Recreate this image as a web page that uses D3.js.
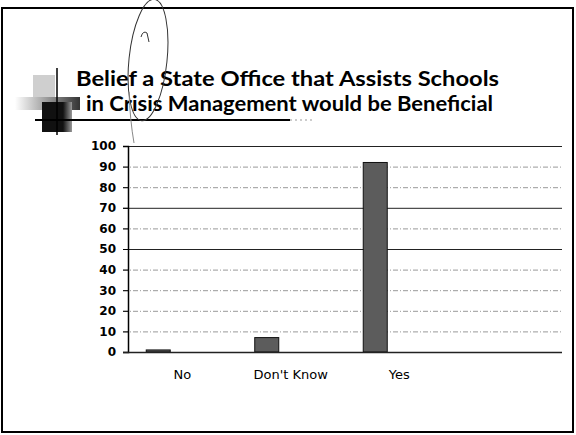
<!DOCTYPE html>
<html>
<head>
<meta charset="utf-8">
<script src="https://cdn.jsdelivr.net/npm/d3@7"></script>
<style>
    body { margin: 0; background: #fff; }
    .ticktext { font-family: "DejaVu Sans", Tahoma, sans-serif; font-size: 12px; fill: #000; }
    .ytick { font-weight: bold; }
    .xtick { font-size: 13px; }
    .title { font-family: "Comic Sans MS", Lato, "DejaVu Sans", sans-serif; font-weight: bold; font-size: 21px; fill: #000; }
</style>
</head>
<body>
<div id="chart"></div>
<script>
// survey answers
var categories = ["No", "Don't Know", "Yes", ""];
var seriesNames = ["Series 1", "Series 2", "Series 3"];
var values = [1, 7, 92];
var yTicks = [0, 10, 20, 30, 40, 50, 60, 70, 80, 90, 100];
var solidTicks = [50, 70, 100];
var titleLines = ["Belief a State Office that Assists Schools", "in Crisis Management would be Beneficial"];

var width = 576, height = 435;
var plot = {left: 128, right: 562, top: 146, bottom: 352};

var svg = d3.select("#chart").append("svg")
    .attr("width", width)
    .attr("height", height);

var defs = svg.append("defs");
var grad = defs.append("linearGradient").attr("id", "fadeBar");
grad.append("stop").attr("offset", "0%").attr("stop-color", "#fff");
grad.append("stop").attr("offset", "100%").attr("stop-color", "#333");
var grad2 = defs.append("linearGradient").attr("id", "darkSq");
grad2.append("stop").attr("offset", "0%").attr("stop-color", "#111");
grad2.append("stop").attr("offset", "70%").attr("stop-color", "#111");
grad2.append("stop").attr("offset", "100%").attr("stop-color", "#999");

//slide frame
svg.append("rect")
    .attr("x", 2).attr("y", 8)
    .attr("width", 571).attr("height", 424)
    .attr("fill", "none")
    .attr("stroke", "#000")
    .attr("stroke-width", 2);

//little slide-template decoration on the left of the title
var deco = svg.append("g");
deco.append("rect").attr("x", 33).attr("y", 75).attr("width", 22).attr("height", 23).attr("fill", "#cfcfcf");
deco.append("rect").attr("x", 15).attr("y", 97).attr("width", 65).attr("height", 13).attr("fill", "url(#fadeBar)");
deco.append("rect").attr("x", 42).attr("y", 102).attr("width", 30).attr("height", 30).attr("fill", "url(#darkSq)");
deco.append("line").attr("x1", 57).attr("x2", 57).attr("y1", 68).attr("y2", 135)
    .attr("stroke", "#000").attr("stroke-width", 1.5);
deco.append("line").attr("x1", 35).attr("x2", 290).attr("y1", 120).attr("y2", 120)
    .attr("stroke", "#000").attr("stroke-width", 2);
deco.append("line").attr("x1", 290).attr("x2", 313).attr("y1", 120).attr("y2", 120)
    .attr("stroke", "#999").attr("stroke-width", 1).attr("stroke-dasharray", "2,3");

//title
svg.selectAll(".title")
    .data(titleLines)
    .enter().append("text")
    .attr("class", "title")
    .attr("x", function (d, i) { return i == 0 ? 76 : 86; })
    .attr("y", function (d, i) { return 86 + i * 25; })
    .attr("textLength", function (d, i) { return i == 0 ? 423 : 407; })
    .attr("lengthAdjust", "spacingAndGlyphs")
    .text(function (d) { return d; });

//pen mark drawn over the title on the scanned slide
var pen = svg.append("g").attr("fill", "none").attr("stroke", "#333").attr("stroke-width", 1);
pen.append("ellipse")
    .attr("cx", 148).attr("cy", 60).attr("rx", 19).attr("ry", 61)
    .attr("transform", "rotate(6,148,60)");
pen.append("path").attr("d", "M141,37 Q143,30 147,33 L149,42");
pen.append("path").attr("d", "M129,92 Q130,120 134,143").attr("stroke", "#888");

//scales
var x = d3.scaleBand().domain(categories).range([plot.left, plot.right]);
var xInner = d3.scaleBand().domain(seriesNames).range([0, x.bandwidth()]).paddingOuter(0.76);
var y = d3.scaleLinear().domain([0, 100]).range([plot.bottom, plot.top]);

//gridlines
svg.append("g").selectAll("line")
    .data(yTicks.filter(function (d) { return d > 0; }))
    .enter().append("line")
    .attr("x1", plot.left - 5).attr("x2", plot.right)
    .attr("y1", function (d) { return y(d) + 0.5; })
    .attr("y2", function (d) { return y(d) + 0.5; })
    .attr("stroke", function (d) { return solidTicks.indexOf(d) >= 0 ? "#222" : "#999"; })
    .attr("stroke-width", 1)
    .attr("stroke-dasharray", function (d) { return solidTicks.indexOf(d) >= 0 ? null : "5,2,1,2"; });

//bars (only the first series carries data)
svg.append("g").selectAll("rect")
    .data(values)
    .enter().append("rect")
    .attr("x", function (d, i) { return x(categories[i]) + xInner(seriesNames[0]); })
    .attr("y", function (d) { return y(d); })
    .attr("width", xInner.bandwidth())
    .attr("height", function (d) { return y(0) - y(d); })
    .attr("fill", "#5c5c5c")
    .attr("stroke", "#111")
    .attr("stroke-width", 1);

//y axis
var yAxis = d3.axisLeft(y).tickValues(yTicks).tickSize(5).tickPadding(7);
var gy = svg.append("g")
    .attr("transform", "translate(" + plot.left + ",0)")
    .call(yAxis);
gy.select(".domain").attr("stroke", "#000").attr("stroke-width", 1.5);
gy.selectAll(".tick line").attr("stroke", "#000");
gy.selectAll(".tick text").attr("class", "ticktext ytick").attr("font-family", null).attr("font-size", null);

//x axis
var xAxis = d3.axisBottom(x).tickSize(0).tickPadding(18);
var gx = svg.append("g")
    .attr("transform", "translate(0," + plot.bottom + ")")
    .call(xAxis);
gx.select(".domain").attr("d", "M" + (plot.left - 5) + ",0.5H" + plot.right)
    .attr("stroke", "#222").attr("stroke-width", 1.5);
gx.selectAll(".tick text").attr("class", "ticktext xtick").attr("font-family", null).attr("font-size", null);
</script>
</body>
</html>
